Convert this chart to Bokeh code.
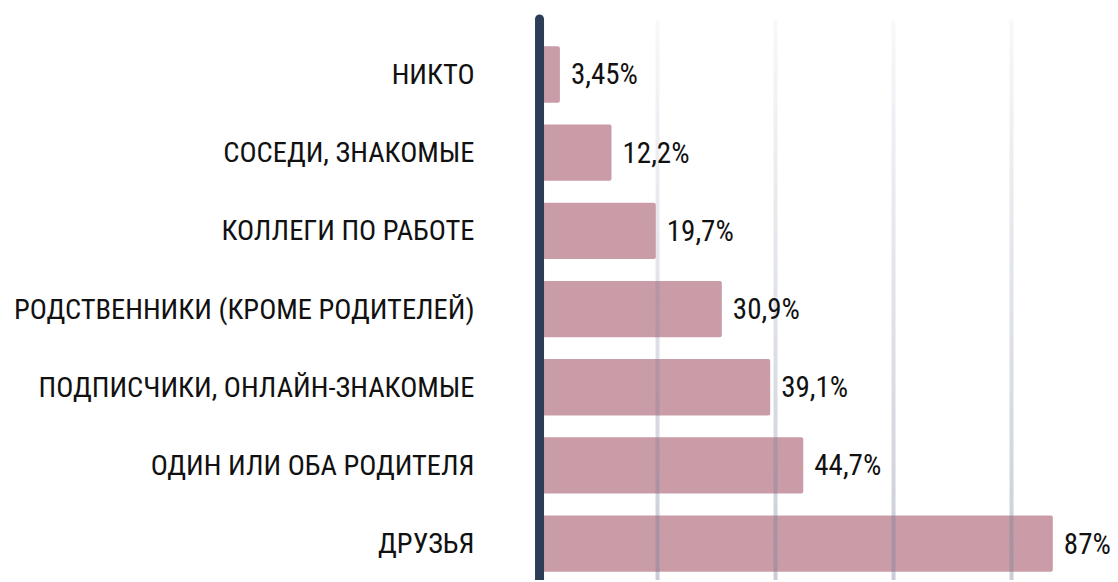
import numpy as np
from bokeh.plotting import figure
from bokeh.embed import file_html
from bokeh.resources import INLINE
from bokeh.core.properties import value
from bokeh.models import ColumnDataSource, Range1d

categories = ["НИКТО", "СОСЕДИ, ЗНАКОМЫЕ", "КОЛЛЕГИ ПО РАБОТЕ",
              "РОДСТВЕННИКИ (КРОМЕ РОДИТЕЛЕЙ)", "ПОДПИСЧИКИ, ОНЛАЙН-ЗНАКОМЫЕ",
              "ОДИН ИЛИ ОБА РОДИТЕЛЯ", "ДРУЗЬЯ"]
values = [3.45, 12.2, 19.7, 30.9, 39.1, 44.7, 87.0]
value_labels = ["3,45%", "12,2%", "19,7%", "30,9%", "39,1%", "44,7%", "87%"]
grid_ticks = [20, 40, 60, 80]

FONT = "Roboto Condensed"

pos = list(range(len(categories)))
src = ColumnDataSource(dict(y=pos, v=values, cat=categories, lab=value_labels,
                            zero=[0] * len(values)))

p = figure(width=1118, height=580, output_backend="svg", toolbar_location=None,
           x_range=Range1d(-91.36, 98.13), y_range=Range1d(6.471, -0.946),
           min_border=0, outline_line_color=None)
p.xaxis.visible = False
p.yaxis.visible = False
p.grid.visible = False
p.background_fill_color = "white"
p.border_fill_color = "white"

# bars
p.hbar(y="y", left="zero", right="v", height=0.72, source=src,
       fill_color="#c99ca8", line_color=None, border_radius=2)

# gradient grid lines (drawn over bars, fading towards top)
n = 80
top, bottom = -0.69, 6.471
edges = np.linspace(top, bottom, n + 1)
gx0, gy0, gy1, ga = [], [], [], []
for t in grid_ticks:
    for i in range(n):
        gx0.append(t)
        gy0.append(edges[i])
        gy1.append(edges[i + 1])
        ga.append(0.06 + 0.34 * (i / (n - 1)))
p.segment(x0=gx0, y0=gy0, x1=gx0, y1=gy1, line_color="#78829a",
          line_alpha=ga, line_width=4, line_cap="butt")

# axis line
p.segment(x0=[0], y0=[-0.71], x1=[0], y1=[7.0], line_color="#2c3e56",
          line_width=9, line_cap="round")

# category labels
p.text(x="zero", y="y", text="cat", source=src, x_offset=-65,
       text_align="right", text_baseline="middle",
       text_font=value(FONT), text_font_size="28.5px", text_color="#111111")

# value labels
p.text(x="v", y="y", text="lab", source=src, x_offset=11,
       text_align="left", text_baseline="middle",
       text_font=value(FONT), text_font_size="29px", text_color="#111111")

open("out.html", "w").write(file_html(p, INLINE))
